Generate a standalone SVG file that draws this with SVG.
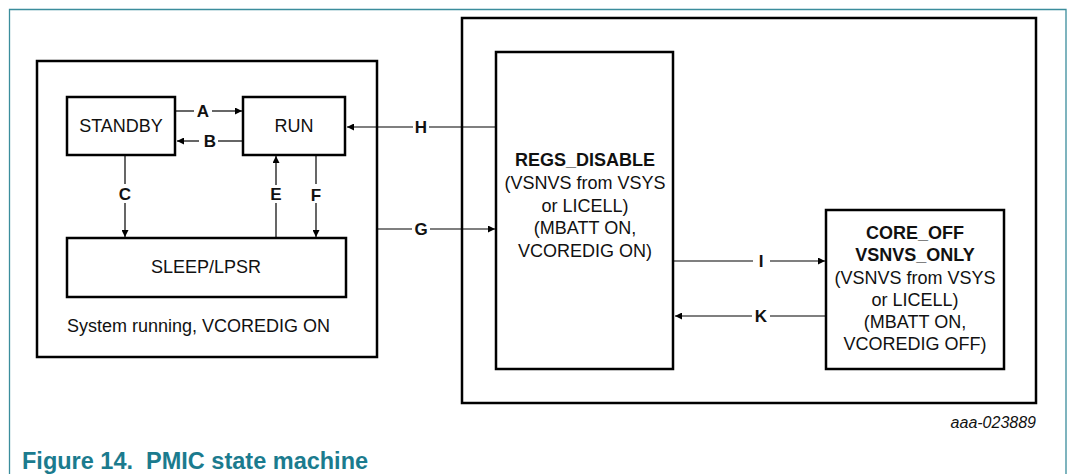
<svg xmlns="http://www.w3.org/2000/svg" width="1071" height="474" viewBox="0 0 1071 474">
<defs>
<marker id="ah" viewBox="0 0 10 10" refX="10" refY="5" markerWidth="9" markerHeight="7" markerUnits="userSpaceOnUse" orient="auto">
<path d="M0,0 L10,5 L0,10 Z" fill="#000"/>
</marker>
<style>
.box{fill:#fff;stroke:#000;stroke-width:2.5}
.frame{fill:none;stroke:#3b8d9c;stroke-width:1.3}
.ln{fill:none;stroke:#000;stroke-width:1.2}
.t{font-family:"Liberation Sans",Arial,sans-serif;font-size:18px;fill:#111;text-anchor:middle}
.b{font-weight:bold}
.lbl{font-family:"Liberation Sans",Arial,sans-serif;font-size:17px;font-weight:bold;fill:#111;text-anchor:middle}
</style>
</defs>
<rect width="1071" height="474" fill="#fff"/>
<path class="frame" d="M9.5,474 V9.5 H1066 V474"/>

<g id="system-running">
<rect class="box" x="37" y="61" width="340" height="296"/>
<text class="t" x="67" y="332" style="text-anchor:start">System running, VCOREDIG ON</text>
</g>
<g id="pmic-off-region">
<rect class="box" x="462" y="18" width="574" height="385"/>
</g>
<g id="standby">
<rect class="box" x="67" y="97" width="108" height="58"/>
<text class="t" x="121" y="132">STANDBY</text>
</g>
<g id="run">
<rect class="box" x="243" y="97" width="102" height="58"/>
<text class="t" x="294" y="132">RUN</text>
</g>
<g id="sleep">
<rect class="box" x="67" y="238" width="279" height="59"/>
<text class="t" x="206" y="273">SLEEP/LPSR</text>
</g>
<g id="regs-disable">
<rect class="box" x="496" y="52" width="177" height="317"/>
<text class="t b" x="585" y="166">REGS_DISABLE</text>
<text class="t" x="585" y="189">(VSNVS from VSYS</text>
<text class="t" x="585" y="212">or LICELL)</text>
<text class="t" x="585" y="234">(MBATT ON,</text>
<text class="t" x="585" y="257">VCOREDIG ON)</text>
</g>
<g id="core-off">
<rect class="box" x="826" y="210" width="178" height="159"/>
<text class="t b" x="915" y="239">CORE_OFF</text>
<text class="t b" x="915" y="261">VSNVS_ONLY</text>
<text class="t" x="915" y="284">(VSNVS from VSYS</text>
<text class="t" x="915" y="306">or LICELL)</text>
<text class="t" x="915" y="328">(MBATT ON,</text>
<text class="t" x="915" y="350">VCOREDIG OFF)</text>
</g>

<g id="connectors">
<!-- A -->
<path class="ln" d="M176,111 H194"/>
<path class="ln" d="M212,111 H242" marker-end="url(#ah)"/>
<text class="lbl" x="203" y="117">A</text>
<!-- B -->
<path class="ln" d="M242,141 H218"/>
<path class="ln" d="M199,141 H177" marker-end="url(#ah)"/>
<text class="lbl" x="210" y="147">B</text>
<!-- C -->
<path class="ln" d="M125,156 V184"/>
<path class="ln" d="M125,203 V237" marker-end="url(#ah)"/>
<text class="lbl" x="125" y="200">C</text>
<!-- E -->
<path class="ln" d="M276,237 V203"/>
<path class="ln" d="M276,185 V156" marker-end="url(#ah)"/>
<text class="lbl" x="276" y="200">E</text>
<!-- F -->
<path class="ln" d="M316,156 V184"/>
<path class="ln" d="M316,203 V237" marker-end="url(#ah)"/>
<text class="lbl" x="316" y="201">F</text>
<!-- H -->
<path class="ln" d="M495,127 H429"/>
<path class="ln" d="M413,127 H347" marker-end="url(#ah)"/>
<text class="lbl" x="421" y="133">H</text>
<!-- G -->
<path class="ln" d="M378,229 H412"/>
<path class="ln" d="M430,229 H495" marker-end="url(#ah)"/>
<text class="lbl" x="421" y="235">G</text>
<!-- I -->
<path class="ln" d="M674,261 H753"/>
<path class="ln" d="M770,261 H825" marker-end="url(#ah)"/>
<text class="lbl" x="761" y="267">I</text>
<!-- K -->
<path class="ln" d="M825,316 H770"/>
<path class="ln" d="M752,316 H675" marker-end="url(#ah)"/>
<text class="lbl" x="761" y="322">K</text>
</g>

<text x="1036" y="428" style="font-family:'Liberation Sans',Arial,sans-serif;font-size:16px;font-style:italic;fill:#111;text-anchor:end">aaa-023889</text>
<text x="22" y="469" style="font-family:'Liberation Sans',Arial,sans-serif;font-size:23.5px;font-weight:bold;fill:#1b7b8e" xml:space="preserve">Figure 14.  PMIC state machine</text>
</svg>
